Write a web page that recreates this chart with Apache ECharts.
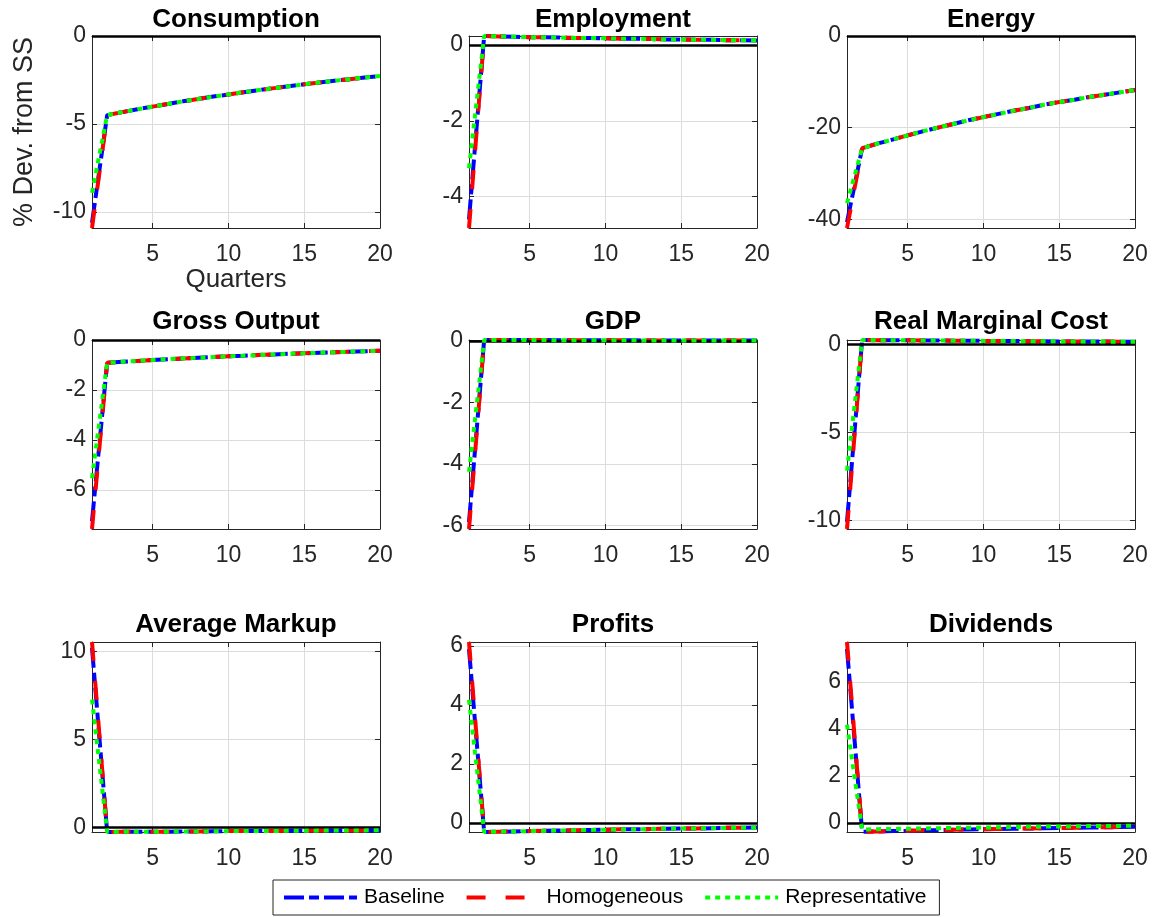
<!DOCTYPE html>
<html>
<head>
<meta charset="utf-8">
<script src="https://cdn.jsdelivr.net/npm/echarts@6/dist/echarts.min.js"></script>
<style>
html,body{margin:0;padding:0;background:#fff;}
#chart{width:1155px;height:917px;}
</style>
</head>
<body>
<div id="chart"></div>
<script>
// ---------------- DATA ----------------
const quarters = [1,2,3,4,5,6,7,8,9,10,11,12,13,14,15,16,17,18,19,20];
const panelTitles = ['Consumption','Employment','Energy','Gross Output','GDP','Real Marginal Cost','Average Markup','Profits','Dividends'];
const seriesNames = ['Baseline','Homogeneous','Representative'];
const yTickSteps = [5,2,20,2,2,5,5,2,2];
const xTickStep = 5;
const xLabel = 'Quarters';
const yLabel = '% Dev. from SS';

const consumptionBaseline       = [-10.6,-4.49,-4.32,-4.16,-4.01,-3.86,-3.71,-3.58,-3.44,-3.32,-3.19,-3.07,-2.96,-2.85,-2.74,-2.64,-2.54,-2.45,-2.36,-2.27];
const consumptionHomogeneous    = [-10.9,-4.49,-4.32,-4.16,-4.01,-3.86,-3.71,-3.58,-3.44,-3.32,-3.19,-3.07,-2.96,-2.85,-2.74,-2.64,-2.54,-2.45,-2.36,-2.27];
const consumptionRepresentative = [-8.9,-4.49,-4.32,-4.16,-4.01,-3.86,-3.71,-3.58,-3.44,-3.32,-3.19,-3.07,-2.96,-2.85,-2.74,-2.64,-2.54,-2.45,-2.36,-2.27];

const employmentBaseline       = [-4.6,0.24,0.23,0.22,0.21,0.21,0.20,0.19,0.19,0.18,0.17,0.17,0.16,0.15,0.15,0.14,0.14,0.13,0.13,0.12];
const employmentHomogeneous    = [-4.83,0.24,0.23,0.22,0.21,0.21,0.20,0.19,0.19,0.18,0.17,0.17,0.16,0.15,0.15,0.14,0.14,0.13,0.13,0.12];
const employmentRepresentative = [-3.25,0.24,0.23,0.22,0.21,0.21,0.20,0.19,0.19,0.18,0.17,0.17,0.16,0.15,0.15,0.14,0.14,0.13,0.13,0.12];

const energyBaseline       = [-40.6,-24.5,-23.5,-22.6,-21.7,-20.8,-20.0,-19.2,-18.4,-17.7,-17.0,-16.3,-15.7,-15.0,-14.4,-13.9,-13.3,-12.8,-12.3,-11.8];
const energyHomogeneous    = [-41.9,-24.5,-23.5,-22.6,-21.7,-20.8,-20.0,-19.2,-18.4,-17.7,-17.0,-16.3,-15.7,-15.0,-14.4,-13.9,-13.3,-12.8,-12.3,-11.8];
const energyRepresentative = [-36.5,-24.5,-23.5,-22.6,-21.7,-20.8,-20.0,-19.2,-18.4,-17.7,-17.0,-16.3,-15.7,-15.0,-14.4,-13.9,-13.3,-12.8,-12.3,-11.8];

const grossOutputBaseline       = [-7.25,-0.91,-0.87,-0.84,-0.80,-0.77,-0.74,-0.71,-0.68,-0.65,-0.63,-0.60,-0.58,-0.55,-0.53,-0.51,-0.49,-0.47,-0.45,-0.43];
const grossOutputHomogeneous    = [-7.56,-0.91,-0.87,-0.84,-0.80,-0.77,-0.74,-0.71,-0.68,-0.65,-0.63,-0.60,-0.58,-0.55,-0.53,-0.51,-0.49,-0.47,-0.45,-0.43];
const grossOutputRepresentative = [-5.53,-0.91,-0.87,-0.84,-0.80,-0.77,-0.74,-0.71,-0.68,-0.65,-0.63,-0.60,-0.58,-0.55,-0.53,-0.51,-0.49,-0.47,-0.45,-0.43];

const gdpBaseline       = [-5.9,0.03,0.03,0.03,0.03,0.03,0.02,0.02,0.02,0.02,0.02,0.02,0.01,0.01,0.01,0.01,0.01,0.01,0.01,0.01];
const gdpHomogeneous    = [-6.12,0.03,0.03,0.03,0.03,0.03,0.02,0.02,0.02,0.02,0.02,0.02,0.01,0.01,0.01,0.01,0.01,0.01,0.01,0.01];
const gdpRepresentative = [-4.26,0.03,0.03,0.03,0.03,0.03,0.02,0.02,0.02,0.02,0.02,0.02,0.01,0.01,0.01,0.01,0.01,0.01,0.01,0.01];

const rmcBaseline       = [-10.1,0.25,0.24,0.24,0.23,0.22,0.22,0.21,0.21,0.20,0.19,0.19,0.18,0.18,0.17,0.17,0.16,0.16,0.15,0.15];
const rmcHomogeneous    = [-10.5,0.25,0.24,0.24,0.23,0.22,0.22,0.21,0.21,0.20,0.19,0.19,0.18,0.18,0.17,0.17,0.16,0.16,0.15,0.15];
const rmcRepresentative = [-7.18,0.25,0.24,0.24,0.23,0.22,0.22,0.21,0.21,0.20,0.19,0.19,0.18,0.18,0.17,0.17,0.16,0.16,0.15,0.15];

const markupBaseline       = [10.2,-0.26,-0.25,-0.25,-0.24,-0.24,-0.23,-0.23,-0.22,-0.21,-0.21,-0.20,-0.20,-0.19,-0.19,-0.18,-0.18,-0.17,-0.17,-0.16];
const markupHomogeneous    = [10.53,-0.26,-0.25,-0.25,-0.24,-0.24,-0.23,-0.23,-0.22,-0.21,-0.21,-0.20,-0.20,-0.19,-0.19,-0.18,-0.18,-0.17,-0.17,-0.16];
const markupRepresentative = [7.27,-0.26,-0.25,-0.25,-0.24,-0.24,-0.23,-0.23,-0.22,-0.21,-0.21,-0.20,-0.20,-0.19,-0.19,-0.18,-0.18,-0.17,-0.17,-0.16];

const profitsBaseline       = [5.9,-0.30,-0.29,-0.28,-0.27,-0.26,-0.25,-0.24,-0.23,-0.22,-0.21,-0.21,-0.20,-0.19,-0.18,-0.18,-0.17,-0.16,-0.16,-0.15];
const profitsHomogeneous    = [6.14,-0.30,-0.29,-0.28,-0.27,-0.26,-0.25,-0.24,-0.23,-0.22,-0.21,-0.21,-0.20,-0.19,-0.18,-0.18,-0.17,-0.16,-0.16,-0.15];
const profitsRepresentative = [4.18,-0.30,-0.29,-0.28,-0.27,-0.26,-0.25,-0.24,-0.23,-0.22,-0.21,-0.21,-0.20,-0.19,-0.18,-0.18,-0.17,-0.16,-0.16,-0.15];

const dividendsBaseline       = [7.4,-0.37,-0.36,-0.34,-0.33,-0.31,-0.30,-0.28,-0.27,-0.26,-0.25,-0.24,-0.23,-0.22,-0.21,-0.20,-0.19,-0.18,-0.17,-0.16];
const dividendsHomogeneous    = [7.69,-0.38,-0.36,-0.34,-0.33,-0.31,-0.30,-0.28,-0.27,-0.26,-0.25,-0.24,-0.23,-0.22,-0.21,-0.20,-0.19,-0.18,-0.17,-0.16];
const dividendsRepresentative = [4.18,-0.28,-0.26,-0.25,-0.24,-0.23,-0.22,-0.21,-0.20,-0.19,-0.18,-0.17,-0.16,-0.15,-0.15,-0.14,-0.13,-0.13,-0.12,-0.11];

const panelData = [
  [consumptionBaseline, consumptionHomogeneous, consumptionRepresentative],
  [employmentBaseline, employmentHomogeneous, employmentRepresentative],
  [energyBaseline, energyHomogeneous, energyRepresentative],
  [grossOutputBaseline, grossOutputHomogeneous, grossOutputRepresentative],
  [gdpBaseline, gdpHomogeneous, gdpRepresentative],
  [rmcBaseline, rmcHomogeneous, rmcRepresentative],
  [markupBaseline, markupHomogeneous, markupRepresentative],
  [profitsBaseline, profitsHomogeneous, profitsRepresentative],
  [dividendsBaseline, dividendsHomogeneous, dividendsRepresentative]
];

// ---------------- LAYOUT / STYLE ----------------
const FONT = '"Liberation Sans", Arial, Helvetica, sans-serif';
const colLeft = [92, 469, 847];
const plotW = 288;
const rowTop = [36, 340, 642];
const rowH = [192, 189, 190];
const titleCenterY = [20, 322, 625];
const AXIS_COLOR = '#262626';
const GRID_COLOR = '#dcdcdc';
const lineStyles = [
  {color:'#0000ff', type:[20,5,10,5]},
  {color:'#ff0000', type:[19,20]},
  {color:'#00ff00', type:[5,5]}
];

function tickFormatter(step){
  return function(v){
    const k = v / step;
    if (Math.abs(k - Math.round(k)) < 1e-6) return String(Math.round(v));
    return '';
  };
}

const option = {
  animation: false,
  backgroundColor: '#fff',
  textStyle: {fontFamily: FONT},
  grid: [], xAxis: [], yAxis: [], series: [], graphic: [],
  legend: {
    data: seriesNames,
    left: 273, top: 880,
    orient: 'horizontal',
    itemWidth: 73, itemHeight: 20, itemGap: 20,
    padding: [7, 13, 7, 9],
    borderColor: AXIS_COLOR, borderWidth: 1,
    backgroundColor: '#fff',
    itemStyle: {opacity: 0, color: 'rgba(0,0,0,0)', borderWidth: 0},
    lineStyle: {width: 4},
    textStyle: {fontSize: 21, color: '#000', fontFamily: FONT, padding: [0,0,0,2]}
  }
};

panelTitles.forEach(function(title, i){
  const r = Math.floor(i / 3), c = i % 3;
  const data = panelData[i];
  let lo = 0, hi = 0;
  data.forEach(function(arr){ arr.forEach(function(v){ lo = Math.min(lo, v); hi = Math.max(hi, v); }); });
  const step = yTickSteps[i];

  option.grid.push({left: colLeft[c], top: rowTop[r], width: plotW, height: rowH[r]});

  const xCommon = {
    type: 'value', gridIndex: i, min: quarters[0], max: quarters[quarters.length-1],
    minInterval: xTickStep, maxInterval: xTickStep,
    axisLine: {show: true, onZero: false, lineStyle: {color: AXIS_COLOR, width: 1}},
    axisTick: {show: true, inside: true, length: 5, lineStyle: {color: AXIS_COLOR, width: 1}}
  };
  option.xAxis.push(Object.assign({}, xCommon, {
    position: 'bottom',
    axisLabel: {show: true, fontSize: 23, color: AXIS_COLOR, margin: 15, fontFamily: FONT, formatter: tickFormatter(xTickStep)},
    splitLine: {show: true, lineStyle: {color: GRID_COLOR, width: 1}},
    name: i === 0 ? xLabel : '',
    nameLocation: 'middle', nameGap: 31,
    nameTextStyle: {fontSize: 26, color: AXIS_COLOR, fontFamily: FONT}
  }));
  option.xAxis.push(Object.assign({}, xCommon, {
    position: 'top', axisLabel: {show: false}, splitLine: {show: false}
  }));

  const yCommon = {
    type: 'value', gridIndex: i, min: lo, max: hi,
    minInterval: step, maxInterval: step,
    axisLine: {show: true, onZero: false, lineStyle: {color: AXIS_COLOR, width: 1}},
    axisTick: {show: true, inside: true, length: 5, lineStyle: {color: AXIS_COLOR, width: 1}}
  };
  option.yAxis.push(Object.assign({}, yCommon, {
    position: 'left',
    axisLabel: {show: true, fontSize: 23, color: AXIS_COLOR, margin: 6, fontFamily: FONT, formatter: tickFormatter(step)},
    splitLine: {show: true, lineStyle: {color: GRID_COLOR, width: 1}},
    name: i === 0 ? yLabel : '',
    nameLocation: 'middle', nameGap: 54,
    nameTextStyle: {fontSize: 27, color: AXIS_COLOR, fontFamily: FONT}
  }));
  option.yAxis.push(Object.assign({}, yCommon, {
    position: 'right', axisLabel: {show: false}, splitLine: {show: false}
  }));

  data.forEach(function(arr, s){
    const ser = {
      type: 'line', name: seriesNames[s],
      xAxisIndex: 2*i, yAxisIndex: 2*i,
      data: quarters.map(function(q, k){ return [q, arr[k]]; }),
      symbol: 'none', showSymbol: false,
      lineStyle: {color: lineStyles[s].color, width: 4, type: lineStyles[s].type, cap: 'butt'},
      itemStyle: {color: lineStyles[s].color},
      z: 3 + s
    };
    if (s === 0) {
      ser.markLine = {
        silent: true, symbol: ['none','none'], label: {show: false},
        lineStyle: {color: '#000', width: 2.5, type: 'solid'},
        emphasis: {disabled: true},
        data: [{yAxis: 0}]
      };
    }
    option.series.push(ser);
  });

  option.graphic.push({
    type: 'text',
    x: colLeft[c] + plotW/2, y: titleCenterY[r],
    style: {text: title, align: 'center', verticalAlign: 'middle', font: 'bold 26px ' + FONT, fill: '#000'}
  });
});

const chart = echarts.init(document.getElementById('chart'), null, {renderer: 'canvas'});
chart.setOption(option);
</script>
</body>
</html>
